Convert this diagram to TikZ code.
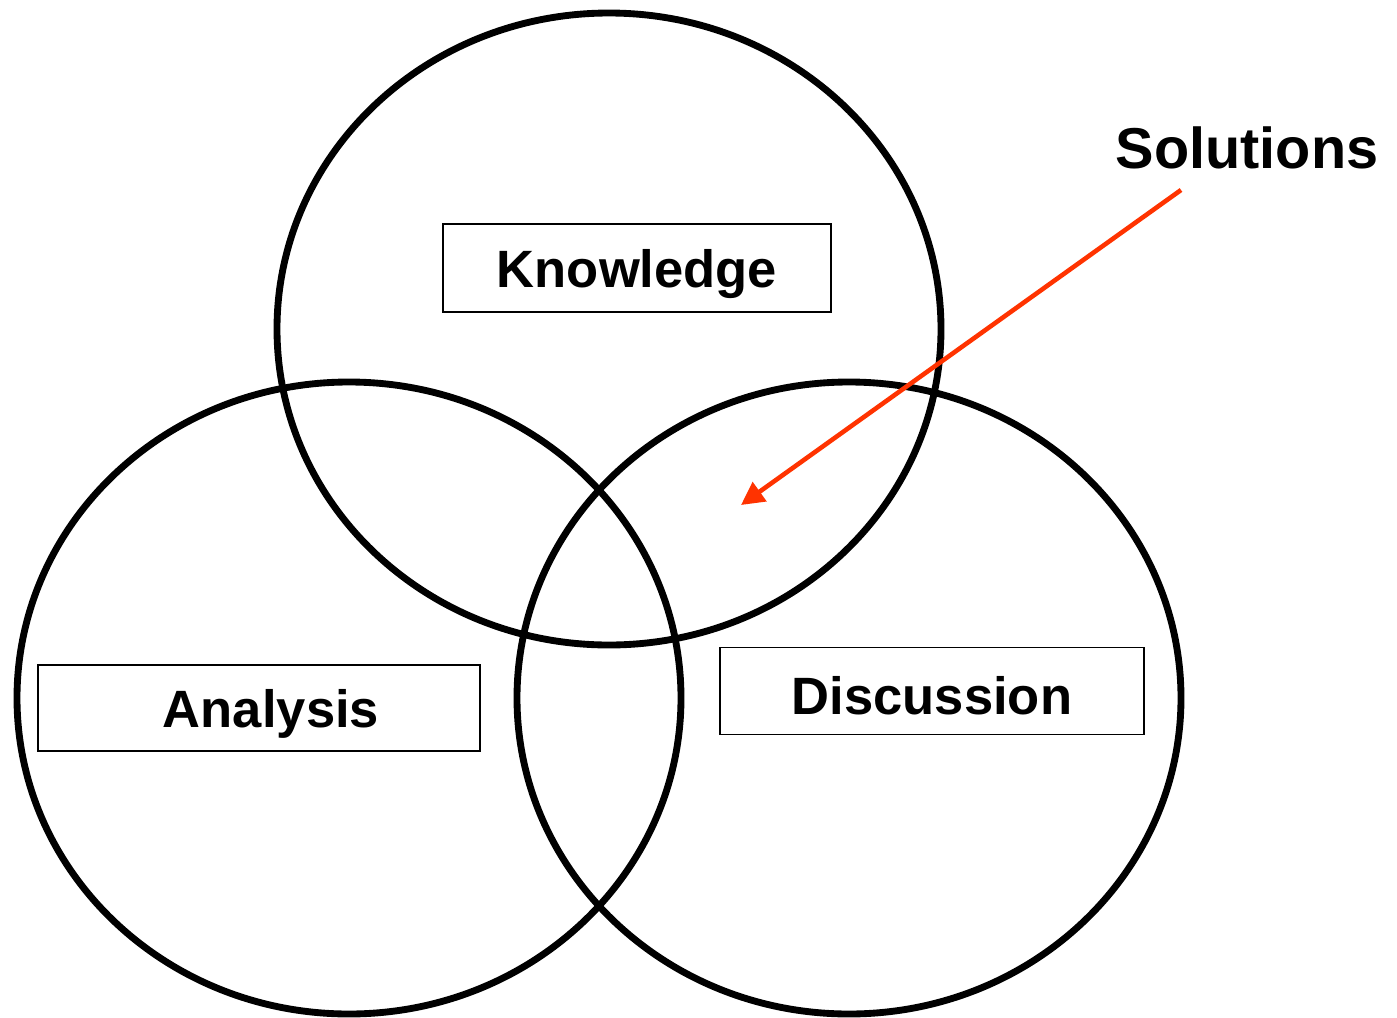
\documentclass[tikz,border=0pt]{standalone}
\usepackage{fontspec}
\setmainfont{Liberation Sans}
\usetikzlibrary{arrows.meta}

\definecolor{solred}{RGB}{255,51,0}

\tikzset{
  ring/.style={line width=3.9pt, black},
  labelbox/.style={draw, line width=1.1pt, inner sep=0pt},
  labeltext/.style={anchor=base, inner sep=0pt, font=\fontsize{29.9}{32}\selectfont\bfseries},
  soltext/.style={anchor=base, inner sep=0pt, font=\fontsize{32.8}{34}\selectfont\bfseries},
  solarrow/.style={solred, line width=2.6pt, -{Triangle[length=0.46cm, width=0.46cm]}}
}

\begin{document}
\begin{tikzpicture}[x=0.02cm, y=-0.02cm]

  \useasboundingbox (0,0) rectangle (1397,1018);

	%circles
    \foreach \cx/\cy in {609/329, 349/698, 849/698}{
           \draw[ring] (\cx,\cy) ellipse (332 and 316);
    }

	%boxes
    \foreach \bx/\by/\bw/\bh/\name in {637/268/7.76cm/1.76cm/knowbox, 259/708/8.86cm/1.72cm/anabox, 932/691/8.48cm/1.74cm/discbox}{
         \node[labelbox, minimum width=\bw, minimum height=\bh] (\name) at (\bx,\by) {};
    }

	%labels
    \foreach \tx/\ty/\txt/\name in {637/287/Knowledge/know, 271/727/Analysis/ana, 932/714/Discussion/disc}{
         \node[labeltext] (\name) at (\tx,\ty) {\txt};
    }

	%solutions
    \node[soltext] (sol) at (1247,168) {Solutions};
    \coordinate (soltail) at (1181,190);
    \coordinate (soltip) at (741,505);
    \draw[solarrow] (soltail) -- (soltip);

\end{tikzpicture}
\end{document}
